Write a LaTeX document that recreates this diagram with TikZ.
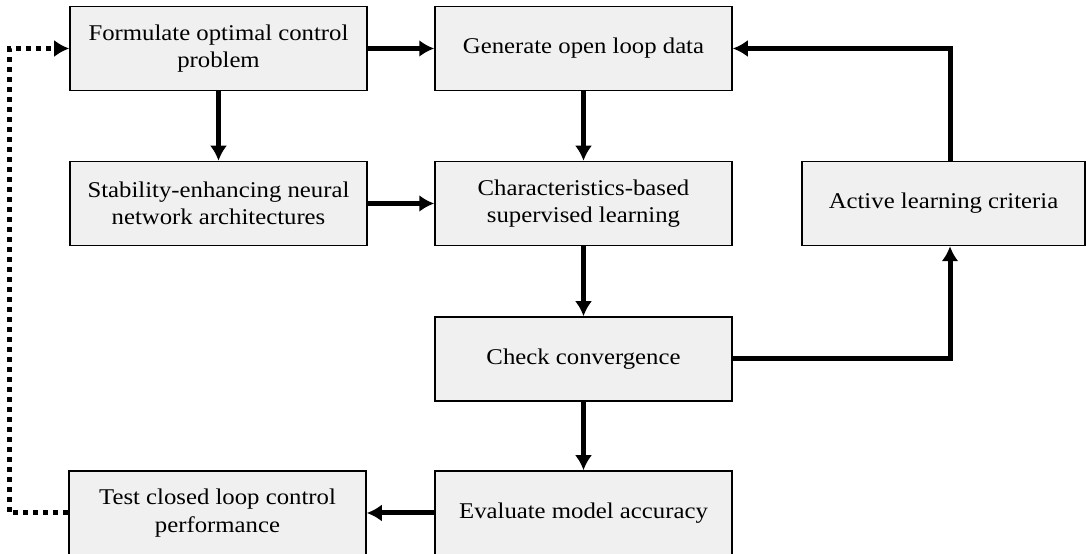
\documentclass[tikz,border=0pt]{standalone}
\usepackage{fontspec}
\setmainfont[FakeStretch=1.1]{Liberation Serif}
\usetikzlibrary{arrows.meta}

\tikzset{
  block/.style={draw=black, line width=1.5bp, fill=black!6, minimum width=297bp,
    minimum height=84bp, align=center, inner sep=0pt,
    font=\fontsize{22.5bp}{27.5bp}\selectfont},
  flow/.style={line width=5bp, -{Latex[length=15bp,width=17bp]}},
  backflow/.style={flow, dash pattern=on 5bp off 5bp}
}

\begin{document}
\begin{tikzpicture}[x=1bp, y=1bp]
  \useasboundingbox (0,0) rectangle (1086,554);
  % Nodes
  \node[block] (form)   at (218.5,505.5) {Formulate optimal control\\problem};
  \node[block] (gen)    at (583.5,505.5) {Generate open loop data};
  \node[block] (stab)   at (218.5,350.5) {Stability-enhancing neural\\network architectures};
  \node[block] (char)   at (583.5,350.5) {Characteristics-based\\supervised learning};
  \node[block, minimum width=283bp] (active) at (943.5,350.5) {Active learning criteria};
  \node[block] (conv)   at (583.5,195)   {Check convergence};
  \node[block] (eval)   at (583.5,41)    {Evaluate model accuracy};
  \node[block] (test)   at (217.5,41)    {Test closed loop control\\performance};
  %
  % Connectors
  \draw[flow] (form) -- (gen);
  \draw[flow] (form) -- (stab);
  \draw[flow] (stab) -- (char);
  \draw[flow] (gen) -- (char);
  \draw[flow] (char) -- (conv);
  \draw[flow] (conv) -- (eval);
  \draw[flow] (conv.east) -| ([xshift=6.5bp]active.south);
  \draw[flow] ([xshift=6.5bp]active.north) |- (gen.east);
  \draw[flow] (eval) -- (test);
  \draw[backflow] (test.west) -- ++(-59,0) |- (form.west);
\end{tikzpicture}
\end{document}
